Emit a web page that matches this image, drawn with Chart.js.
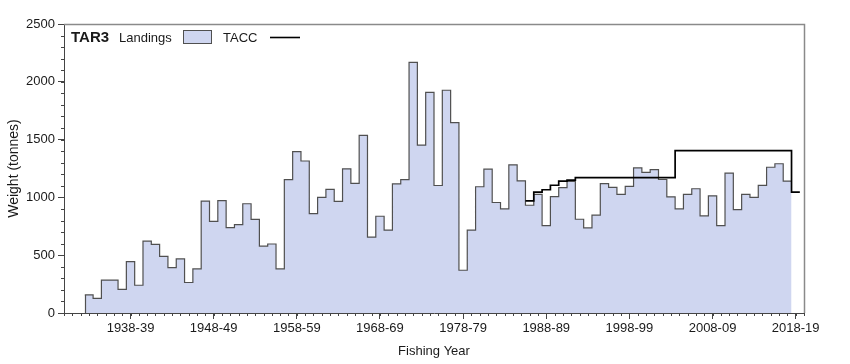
<!DOCTYPE html>
<html>
<head>
<meta charset="utf-8">
<script src="https://cdn.jsdelivr.net/npm/chart.js@4.4.1/dist/chart.umd.min.js"></script>
<style>
html,body{margin:0;padding:0;background:#fff;}
#wrap{width:850px;height:364px;position:relative;}
</style>
</head>
<body>
<div id="wrap"><canvas id="c" width="850" height="364"></canvas></div>
<script>
// ---- data ----
const landingStartYear = 1933;
const landings = [
  156,126,285,285,204,444,240,621,594,490,   // 1933-1942
  393,468,264,381,968,792,972,738,765,945,   // 1943-1952
  810,578,597,381,1153,1396,1315,860,1001,1070, // 1953-1962
  966,1247,1122,1537,657,837,717,1117,1154,2168, // 1963-1972
  1453,1908,1103,1927,1646,370,717,1092,1244,956, // 1973-1982
  900,1282,1143,932,1027,756,1007,1084,1138,811, // 1983-1992
  736,846,1120,1086,1027,1095,1255,1216,1240,1155, // 1993-2002
  1005,900,1027,1075,840,1014,756,1210,894,1027, // 2003-2012
  1000,1104,1261,1291,1141                      // 2013-2017
];
const taccStartYear = 1986;
const tacc = [
  970,1045,1066,1105,1140,1150,                 // 1986-1991
  1171,1171,1171,1171,1171,1171,1171,1171,1171,1171,1171,1171, // 1992-2003
  1405,1405,1405,1405,1405,1405,1405,1405,1405,1405,1405,1405,1405,1405, // 2004-2017
  1045                                          // 2018
];
const xMajorYears = [1938,1948,1958,1968,1978,1988,1998,2008,2018];
const xTickLabels = ['1938-39','1948-49','1958-59','1968-69','1978-79','1988-89','1998-99','2008-09','2018-19'];
const yMajorTicks = [0,500,1000,1500,2000,2500];

// ---- build step series (each year spans year-0.5 .. year+0.5) ----
function stepSeries(start, vals){
  const pts = vals.map((v,i)=>({x:start+i-0.5, y:v}));
  pts.push({x:start+vals.length-0.5, y:vals[vals.length-1]});
  return pts;
}

const FONT = "'Liberation Sans', Arial, sans-serif";
const TXT = '#1a1a1a';
const FILL = 'rgb(207,214,240)';
const OUTLINE = '#505050';

const decor = {
  id:'decor',
  afterDatasetsDraw(chart){
    // left closing edge of the first landings step, from baseline up to the first value
    const {ctx, scales:{x,y}} = chart;
    const px = Math.round(x.getPixelForValue(landingStartYear - 0.5)) + 0.5;
    ctx.save();
    ctx.strokeStyle = OUTLINE; ctx.lineWidth = 1.2;
    ctx.beginPath(); ctx.moveTo(px, y.getPixelForValue(0)); ctx.lineTo(px, y.getPixelForValue(landings[0])); ctx.stroke();
    ctx.restore();
  },
  afterDraw(chart){
    const {ctx, chartArea:a, scales:{x,y}} = chart;
    ctx.save();
    // top/right frame
    ctx.strokeStyle = '#8a8a8a'; ctx.lineWidth = 1.5;
    ctx.beginPath();
    ctx.moveTo(a.left, a.top+0.5); ctx.lineTo(a.right+0.5, a.top+0.5); ctx.lineTo(a.right+0.5, a.bottom);
    ctx.stroke();
    // minor ticks
    ctx.strokeStyle = '#444'; ctx.lineWidth = 1;
    ctx.beginPath();
    for (let yr = Math.ceil(x.min); yr <= x.max; yr++){
      const px = Math.round(x.getPixelForValue(yr)) + 0.5;
      ctx.moveTo(px, a.bottom); ctx.lineTo(px, a.bottom + 3);
    }
    for (let v = y.min; v <= y.max; v += 100){
      const py = Math.round(y.getPixelForValue(v)) + 0.5;
      ctx.moveTo(a.left, py); ctx.lineTo(a.left - 3, py);
    }
    ctx.stroke();
    // legend
    const ly = a.top + 14;
    ctx.fillStyle = TXT; ctx.textBaseline = 'middle'; ctx.textAlign = 'left';
    ctx.font = "bold 15px " + FONT;
    ctx.fillText('TAR3', a.left + 7, ly);
    ctx.font = "13px " + FONT;
    ctx.fillText('Landings', a.left + 55, ly);
    ctx.fillStyle = FILL; ctx.fillRect(a.left + 119, ly - 8, 29, 14);
    ctx.strokeStyle = OUTLINE; ctx.lineWidth = 1;
    ctx.strokeRect(a.left + 119.5, ly - 7.5, 28, 13);
    ctx.fillStyle = TXT;
    ctx.fillText('TACC', a.left + 159, ly);
    ctx.strokeStyle = '#000'; ctx.lineWidth = 1.6;
    ctx.beginPath(); ctx.moveTo(a.left + 206, ly - 0.5); ctx.lineTo(a.left + 236, ly - 0.5); ctx.stroke();
    ctx.restore();
  }
};

new Chart(document.getElementById('c'), {
  type: 'line',
  data: {
    datasets: [
      {
        label: 'TACC',
        data: stepSeries(taccStartYear, tacc),
        stepped: true,
        borderColor: '#000',
        borderWidth: 1.7,
        pointRadius: 0,
        fill: false,
        order: 0
      },
      {
        label: 'Landings',
        data: stepSeries(landingStartYear, landings),
        stepped: true,
        borderColor: OUTLINE,
        borderWidth: 1.2,
        backgroundColor: FILL,
        pointRadius: 0,
        fill: 'origin',
        order: 1
      }
    ]
  },
  options: {
    responsive: false,
    animation: false,
    devicePixelRatio: 1,
    layout: { padding: { left: 0, right: 46, top: 24, bottom: 0 } },
    plugins: { legend: { display: false }, tooltip: { enabled: false } },
    scales: {
      x: {
        type: 'linear', min: 1930, max: 2019,
        afterBuildTicks: s => { s.ticks = xMajorYears.map(v => ({ value: v })); },
        afterFit: s => { s.height = 51; },
        ticks: {
          autoSkip: false, maxRotation: 0, minRotation: 0, padding: 2,
          color: TXT, font: { family: FONT, size: 13 },
          callback: v => { const i = xMajorYears.indexOf(v); return i >= 0 ? xTickLabels[i] : ''; }
        },
        grid: { drawOnChartArea: false, drawTicks: true, tickLength: 6, tickColor: '#444' },
        border: { display: true, color: '#444', width: 1 },
        title: { display: true, text: 'Fishing Year', color: TXT, font: { family: FONT, size: 13 }, padding: { top: 0, bottom: 5 } }
      },
      y: {
        min: 0, max: 2500,
        afterBuildTicks: s => { s.ticks = yMajorTicks.map(v => ({ value: v })); },
        afterFit: s => { s.width = 64; },
        ticks: { color: TXT, font: { family: FONT, size: 13 }, padding: 3, callback: v => String(v) },
        grid: { drawOnChartArea: false, drawTicks: true, tickLength: 6, tickColor: '#444' },
        border: { display: true, color: '#444', width: 1 },
        title: { display: true, text: 'Weight (tonnes)', color: TXT, font: { family: FONT, size: 14 }, padding: { top: 6, bottom: 0 } }
      }
    }
  },
  plugins: [decor]
});
</script>
</body>
</html>
